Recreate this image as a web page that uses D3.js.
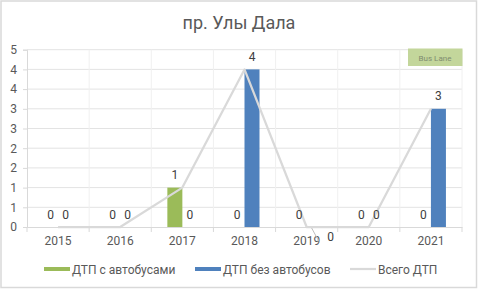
<!DOCTYPE html>
<html><head><meta charset="utf-8">
<script src="https://cdn.jsdelivr.net/npm/d3@7"></script>
<style>body{margin:0;background:#fff}svg{display:block;font-family:Roboto,"Noto Sans",sans-serif}</style>
</head><body><svg id="c" width="479" height="290"></svg>
<script>
const categories = ["2015","2016","2017","2018","2019","2020","2021"];
const withBuses = [0,0,1,0,0,0,0];
const withoutBuses = [0,0,0,4,0,0,3];
const totalAcc = [0,0,1,4,0,0,3];
const yTicks = [0,0.5,1,1.5,2,2.5,3,3.5,4,4.5];
const seriesNames = ["ДТП с автобусами","ДТП без автобусов","Всего ДТП"];
const title = "пр. Улы Дала";
const annotation = "Bus Lane";

const svg = d3.select("#c");
const W=479,H=290;
const L=27,R=462,T=49.7,B=227;
svg.append("rect").attr("x",1).attr("y",1).attr("width",475.5).attr("height",286.5)
  .attr("fill","#fff").attr("stroke","#d9d9d9").attr("stroke-width",1.5);

const x = d3.scaleBand().domain(categories).range([L,R]).padding(0);
const y = d3.scaleLinear().domain([0,4.5]).range([B,T]);
const bw = x.bandwidth();
const barW = 15;
const pOuter = (bw/barW - 2)/2;
const xs = d3.scaleBand().domain(["g","b"]).range([0,bw]).paddingInner(0).paddingOuter(pOuter);

// gridlines
svg.append("g").selectAll("line").data(yTicks.slice(1)).join("line")
  .attr("x1",L).attr("x2",R).attr("y1",d=>y(d)).attr("y2",d=>y(d))
  .attr("stroke","#e3e3e3").attr("stroke-width",1);
svg.append("g").selectAll("line").data(categories.slice(1).concat(["end"])).join("line")
  .attr("x1",(d,i)=>L+bw*(i+1)).attr("x2",(d,i)=>L+bw*(i+1)).attr("y1",T).attr("y2",B)
  .attr("stroke","#f0f0f0").attr("stroke-width",1);

// y axis
const yAxis = d3.axisLeft(y).tickValues(yTicks).tickFormat(d=>Math.round(d)).tickSize(4).tickPadding(6);
const gy = svg.append("g").attr("transform",`translate(${L},0)`).call(yAxis);
gy.select(".domain").attr("stroke","#d9d9d9");
gy.selectAll(".tick line").attr("stroke","#d9d9d9");
gy.selectAll(".tick text").attr("fill","#595959").attr("font-size",12).attr("font-family","Roboto");

// x axis
const xAxis = d3.axisBottom(x).tickSize(0).tickPadding(9);
const gx = svg.append("g").attr("transform",`translate(0,${B})`).call(xAxis);
gx.select(".domain").attr("stroke","#d9d9d9");
gx.selectAll(".tick text").attr("fill","#595959").attr("font-size",12).attr("font-family","Roboto");
svg.append("g").selectAll("line").data(d3.range(categories.length+1)).join("line")
  .attr("x1",i=>L+bw*i).attr("x2",i=>L+bw*i).attr("y1",B).attr("y2",B+5)
  .attr("stroke","#d9d9d9");

// bars
const bars = [];
categories.forEach((c,i)=>{
  bars.push({c,k:"g",v:withBuses[i]});
  bars.push({c,k:"b",v:withoutBuses[i]});
});
const colors = {g:"#9bbb59",b:"#4f81bd"};
svg.append("g").selectAll("rect").data(bars).join("rect")
  .attr("x",d=>x(d.c)+xs(d.k)).attr("width",xs.bandwidth())
  .attr("y",d=>y(d.v)).attr("height",d=>B-y(d.v)).attr("fill",d=>colors[d.k]);

// total line
const line = d3.line().x((d,i)=>x(categories[i])+bw/2).y(d=>y(d));
svg.append("path").datum(totalAcc).attr("d",line).attr("fill","none")
  .attr("stroke","#d9d9d9").attr("stroke-width",2.25).attr("stroke-linejoin","round");

// bar labels
const moved = {c:"2019",k:"b"};
const lbl = svg.append("g").attr("font-size",12).attr("fill","#404040").attr("text-anchor","middle");
bars.forEach(d=>{
  const cx = x(d.c)+xs(d.k)+xs.bandwidth()/2;
  if(d.c===moved.c && d.k===moved.k){
    const px = x(d.c)+bw/2;
    svg.append("line").attr("x1",px+5).attr("y1",B+1).attr("x2",px+12).attr("y2",B+14)
      .attr("stroke","#bfbfbf").attr("stroke-width",1);
    lbl.append("text").attr("x",px+24).attr("y",B+14).text(d.v);
  } else {
    lbl.append("text").attr("x",cx).attr("y",y(d.v)-8.5).text(d.v);
  }
});

// title
svg.append("text").attr("x",239).attr("y",29).attr("text-anchor","middle")
  .attr("font-size",18).attr("fill","#595959").text(title);

// Bus Lane annotation
svg.append("rect").attr("x",408).attr("y",48.5).attr("width",54.5).attr("height",17.5).attr("fill","#c3d69b");
svg.append("text").attr("x",435).attr("y",60.5).attr("text-anchor","middle")
  .attr("font-size",8).attr("fill","#7f8c6f").text(annotation);

// legend
const leg = svg.append("g");
const legItems = [
  {name:seriesNames[0],x:44,type:"rect",color:colors.g},
  {name:seriesNames[1],x:195,type:"rect",color:colors.b},
  {name:seriesNames[2],x:350,type:"line",color:"#d9d9d9"}
];
legItems.forEach(it=>{
  if(it.type==="rect") leg.append("rect").attr("x",it.x).attr("y",267).attr("width",26).attr("height",4).attr("fill",it.color);
  else leg.append("line").attr("x1",it.x).attr("x2",it.x+26).attr("y1",269).attr("y2",269).attr("stroke",it.color).attr("stroke-width",2.25);
  leg.append("text").attr("x",it.x+28).attr("y",273.5).attr("font-size",12).attr("fill","#595959").text(it.name);
});
</script></body></html>
